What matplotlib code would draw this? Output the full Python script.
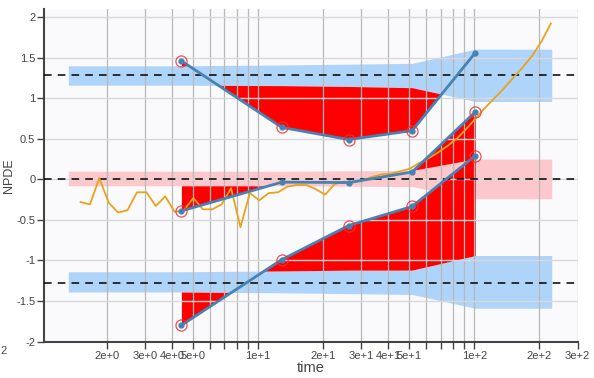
import numpy as np
import matplotlib.pyplot as plt
from matplotlib.ticker import FixedLocator, FixedFormatter, NullFormatter

plt.rcParams['font.family'] = ['Liberation Sans', 'DejaVu Sans']

# observed percentiles of NPDE per time bin
time_bins = [4.43, 12.9, 26.3, 51.6, 101]
obs_p10 = [-1.80, -0.99, -0.57, -0.335, 0.29]
obs_p50 = [-0.39, -0.035, -0.04, 0.09, 0.83]
obs_p90 = [1.46, 0.64, 0.49, 0.60, 1.56]
out_p10 = [True, True, True, True, True]
out_p50 = [True, False, False, False, True]
out_p90 = [True, True, True, True, False]

# prediction intervals of the percentiles
band_time = [1.33, 4.43, 12.9, 26.3, 51.6, 101, 228]
pi10_lo = [-1.39, -1.39, -1.40, -1.41, -1.42, -1.59, -1.59]
pi10_hi = [-1.14, -1.14, -1.13, -1.12, -1.12, -0.94, -0.94]
pi50_lo = [-0.08, -0.08, -0.08, -0.085, -0.09, -0.24, -0.24]
pi50_hi = [0.10, 0.10, 0.10, 0.105, 0.11, 0.25, 0.25]
pi90_lo = [1.16, 1.16, 1.155, 1.145, 1.13, 0.96, 0.96]
pi90_hi = [1.40, 1.40, 1.41, 1.42, 1.43, 1.605, 1.605]

theo = [-1.2816, 0.0, 1.2816]

# orange curve
curve_t = [1.515, 1.674, 1.850, 2.045, 2.261, 2.499, 2.762, 3.052, 3.374, 3.729,
           4.121, 4.555, 5.035, 5.565, 6.151, 6.798, 7.514, 8.304, 9.179, 10.15,
           11.21, 12.39, 13.70, 15.14, 16.73, 18.49, 20.44, 22.59, 24.97, 27.60,
           30.50, 33.71, 37.26, 41.18, 45.52, 50.31, 55.61, 61.46, 67.93, 75.08,
           82.98, 91.72, 101.4, 112.0, 123.8, 136.9, 151.3, 167.2, 184.8, 204.3, 225.8]
curve_v = [-0.28, -0.31, 0.015, -0.29, -0.41, -0.38, -0.16, -0.16, -0.33, -0.21,
           -0.40, -0.38, -0.23, -0.37, -0.37, -0.31, -0.11, -0.59, -0.17, -0.26,
           -0.17, -0.16, -0.09, -0.07, -0.07, -0.12, -0.19, -0.06, -0.03, -0.04,
           -0.01, 0.03, 0.06, 0.07, 0.10, 0.13, 0.20, 0.26, 0.33, 0.41,
           0.50, 0.62, 0.75, 0.88, 1.00, 1.12, 1.25, 1.38, 1.52, 1.70, 1.92]

xticks = [2, 3, 4, 5, 10, 20, 30, 40, 50, 100, 200, 300]
xlabels = ['2e+0', '3e+0', '4e+0', '5e+0', '1e+1', '2e+1', '3e+1', '4e+1', '5e+1',
           '1e+2', '2e+2', '3e+2']
xminor = [6, 7, 8, 9, 60, 70, 80, 90]
yticks = [-2, -1.5, -1, -0.5, 0, 0.5, 1, 1.5, 2]

blue = '#afd4fa'
pink = '#fdc8cb'
steel = '#4682b4'
txt = '#444444'

fig = plt.figure(figsize=(5.94, 3.78), dpi=100)
ax = fig.add_axes([44.3 / 594, 1 - 341.5 / 378, (577.7 - 44.3) / 594, (341.5 - 9) / 378])
ax.set_xscale('log')
ax.set_facecolor('#fafafd')

for lo, hi, col in [(pi10_lo, pi10_hi, blue), (pi50_lo, pi50_hi, pink), (pi90_lo, pi90_hi, blue)]:
    ax.fill_between(band_time, lo, hi, color=col, lw=0, zorder=1)

# red where observed percentile falls outside its interval
lt = np.linspace(np.log10(time_bins[0]), np.log10(time_bins[-1]), 600)
tt = 10 ** lt
for obs, lo, hi in [(obs_p10, pi10_lo, pi10_hi), (obs_p50, pi50_lo, pi50_hi), (obs_p90, pi90_lo, pi90_hi)]:
    o = np.interp(lt, np.log10(time_bins), obs)
    l = np.interp(lt, np.log10(band_time), lo)
    h = np.interp(lt, np.log10(band_time), hi)
    ax.fill_between(tt, o, h, where=o > h, interpolate=True, color='red', lw=0, zorder=1.2)
    ax.fill_between(tt, o, l, where=o < l, interpolate=True, color='red', lw=0, zorder=1.2)

for v in theo:
    ax.axhline(v, color='black', ls=(0, (5, 4)), lw=1.1, zorder=3)

ax.plot(curve_t, curve_v, color='#e9a31b', lw=1.3, zorder=4)

for obs, flag in [(obs_p10, out_p10), (obs_p50, out_p50), (obs_p90, out_p90)]:
    ax.plot(time_bins, obs, color=steel, lw=2, marker='o', ms=3.5, zorder=5)
    ft = [t for t, f in zip(time_bins, flag) if f]
    fv = [v for v, f in zip(obs, flag) if f]
    ax.plot(ft, fv, 'o', mfc='none', mec='#f03030', ms=8, mew=0.9, alpha=0.85, zorder=6)

ax.set_xlim(1.03, 300.5)
ax.set_ylim(-2, 2.1)
ax.xaxis.set_major_locator(FixedLocator(xticks))
ax.xaxis.set_major_formatter(FixedFormatter(xlabels))
ax.xaxis.set_minor_locator(FixedLocator(xminor))
ax.xaxis.set_minor_formatter(NullFormatter())
ax.set_yticks(yticks)
ax.set_yticklabels([f'{v:g}' for v in yticks])

ax.set_axisbelow('line')
ax.yaxis.grid(True, color='#d8d8d8', lw=1)
ax.xaxis.grid(True, which='both', color='#b8b8b8', lw=0.9)

ax.tick_params(which='both', direction='out', length=5, width=1, color=txt,
               labelcolor=txt, labelsize=8, pad=1.5)
for s in ['top', 'right']:
    ax.spines[s].set_visible(False)
for s in ['left', 'bottom']:
    ax.spines[s].set_color(txt)
    ax.spines[s].set_linewidth(1.5)

ax.set_xlabel('time', fontsize=10.5, color=txt)
ax.set_ylabel('NPDE', fontsize=9, color=txt)
ax.xaxis.set_label_coords(0.5, -0.06)
ax.yaxis.set_label_coords(-0.055, 0.5)
fig.text(0.0, 1 - 351 / 378, '2', ha='left', va='center', fontsize=8, color=txt)

fig.savefig('out.png', dpi=100)
